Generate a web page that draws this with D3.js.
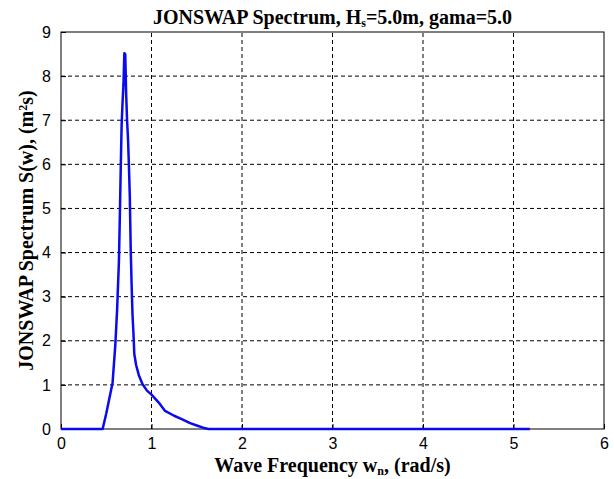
<!DOCTYPE html>
<html>
<head>
<meta charset="utf-8">
<script src="https://cdn.jsdelivr.net/npm/d3@7"></script>
<style>
  body { margin: 0; background: #fff; }
  svg { display: block; }
</style>
</head>
<body>
<script>
// values (rad/s, m^2 s)
var freq = [0, 0.46, 0.50, 0.54, 0.57, 0.60, 0.62, 0.64, 0.65, 0.66, 0.67, 0.68, 0.69, 0.70, 0.71,
            0.72, 0.73, 0.74, 0.75, 0.76, 0.77, 0.78, 0.79, 0.80, 0.81, 0.83, 0.86, 0.90, 0.95, 1.00,
            1.08, 1.15, 1.25, 1.34, 1.42, 1.50, 1.57, 1.63, 5.18];
var spec = [0, 0, 0.35, 0.75, 1.05, 1.9, 2.7, 3.8, 4.8, 5.9, 6.9, 7.4, 7.8, 8.52, 8.5,
            7.6, 7.0, 6.6, 6.0, 5.3, 4.1, 3.3, 2.6, 2.2, 1.7, 1.45, 1.22, 1.02, 0.87, 0.78,
            0.6, 0.41, 0.3, 0.22, 0.14, 0.08, 0.03, 0, 0];
var xTicks = [0, 1, 2, 3, 4, 5, 6];
var yTicks = [0, 1, 2, 3, 4, 5, 6, 7, 8, 9];

var width = 614,
    height = 479,
    margin = {left: 61, top: 32, right: 10, bottom: 50};

var svg = d3.select("body").append("svg")
    .attr("width", width)
    .attr("height", height);

var x = d3.scaleLinear().domain([0, 6]).range([margin.left, width - margin.right]),
    y = d3.scaleLinear().domain([0, 9]).range([height - margin.bottom, margin.top]);

// grid
svg.append("g").selectAll("line")
    .data(xTicks.slice(1, -1))
  .enter().append("line")
    .attr("x1", d => x(d)).attr("x2", d => x(d))
    .attr("y1", y(0)).attr("y2", y(9))
    .attr("stroke", "#000").attr("stroke-width", 1)
    .attr("stroke-dasharray", "4,3");

svg.append("g").selectAll("line")
    .data(yTicks.slice(1, -1))
  .enter().append("line")
    .attr("x1", x(0)).attr("x2", x(6))
    .attr("y1", d => y(d)).attr("y2", d => y(d))
    .attr("stroke", "#000").attr("stroke-width", 1)
    .attr("stroke-dasharray", "4,3");

// axes
var xAxis = svg.append("g")
    .attr("transform", "translate(0," + y(0) + ")")
    .call(d3.axisBottom(x).tickValues(xTicks).tickFormat(d3.format("d"))
      .tickSizeInner(-5).tickSizeOuter(0).tickPadding(9));
var yAxis = svg.append("g")
    .attr("transform", "translate(" + x(0) + ",0)")
    .call(d3.axisLeft(y).tickValues(yTicks).tickFormat(d3.format("d"))
      .tickSizeInner(-5).tickSizeOuter(0).tickPadding(10));

[xAxis, yAxis].forEach(function(g) {
  g.select(".domain").remove();
  g.selectAll("line").attr("stroke", "#000");
  g.selectAll("text")
    .attr("fill", "#000")
    .style("font-family", "Liberation Sans, Arial, sans-serif")
    .style("font-size", "16px");
});

// frame
svg.append("rect")
    .attr("x", x(0)).attr("y", y(9))
    .attr("width", x(6) - x(0)).attr("height", y(0) - y(9))
    .attr("fill", "none").attr("stroke", "#000").attr("stroke-width", 1);

// spectrum line
var line = d3.line()
    .x((d, i) => x(freq[i]))
    .y(d => y(d));

svg.append("path")
    .datum(spec)
    .attr("d", line)
    .attr("fill", "none")
    .attr("stroke", "#0a0af0")
    .attr("stroke-width", 2.5)
    .attr("stroke-linejoin", "round");

// labels
var serif = "Liberation Serif, Times New Roman, serif";

var title = svg.append("text")
    .attr("x", (x(0) + x(6)) / 2)
    .attr("y", 24)
    .attr("text-anchor", "middle")
    .style("font-family", serif)
    .style("font-weight", "bold")
    .style("font-size", "20px");
title.append("tspan").text("JONSWAP Spectrum, H");
title.append("tspan").attr("dy", 3).style("font-size", "12px").text("s");
title.append("tspan").attr("dy", -3).text("=5.0m, gama=5.0");

var xl = svg.append("text")
    .attr("x", (x(0) + x(6)) / 2)
    .attr("y", 472)
    .attr("text-anchor", "middle")
    .style("font-family", serif)
    .style("font-weight", "bold")
    .style("font-size", "20px");
xl.append("tspan").text("Wave Frequency w");
xl.append("tspan").attr("dy", 3).style("font-size", "12px").text("n");
xl.append("tspan").attr("dy", -3).text(", (rad/s)");

var yl = svg.append("text")
    .attr("transform", "translate(33," + ((y(0) + y(9)) / 2) + ") rotate(-90)")
    .attr("text-anchor", "middle")
    .style("font-family", serif)
    .style("font-weight", "bold")
    .style("font-size", "20px");
yl.append("tspan").text("JONSWAP Spectrum S(w), (m");
yl.append("tspan").attr("dy", -6).style("font-size", "12px").text("2");
yl.append("tspan").attr("dy", 6).text("s)");
</script>
</body>
</html>
